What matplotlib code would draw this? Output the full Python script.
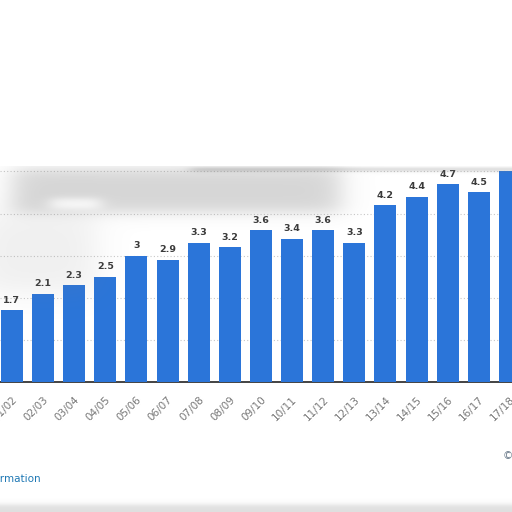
import matplotlib
matplotlib.use("Agg")
import matplotlib.pyplot as plt
import numpy as np

seasons = ["01/02", "02/03", "03/04", "04/05", "05/06", "06/07", "07/08", "08/09",
           "09/10", "10/11", "11/12", "12/13", "13/14", "14/15", "15/16", "16/17", "17/18"]
values = [1.7, 2.1, 2.3, 2.5, 3, 2.9, 3.3, 3.2, 3.6, 3.4, 3.6, 3.3, 4.2, 4.4, 4.7, 4.5, 5.0]
shown_labels = ["1.7", "2.1", "2.3", "2.5", "3", "2.9", "3.3", "3.2", "3.6", "3.4",
                "3.6", "3.3", "4.2", "4.4", "4.7", "4.5", "5"]

BLUE = "#2b75d9"


def smooth_box(v, a, b, w):
    return 1 / (1 + np.exp(-(v - a) / w)) / (1 + np.exp((v - b) / w))


def main():
    fig = plt.figure(figsize=(5.12, 5.12), dpi=100)
    fig.patch.set_facecolor("white")

    # axes runs off both sides of the picture (cropped screenshot)
    ax = fig.add_axes([0, 130 / 512, 1, 219 / 512])
    x = np.arange(len(seasons))
    ax.bar(x, values, width=0.707, color=BLUE, zorder=3)
    ax.set_xlim(-0.382, 16.065)
    ax.set_ylim(0, 5.2)

    for xi, v, lab in zip(x, values, shown_labels):
        ax.annotate(lab, (xi, v), xytext=(0, 4), textcoords="offset points",
                    ha="center", va="bottom", fontsize=6.8, fontweight="bold",
                    color="#3a3a3a", zorder=4)

    ax.set_yticks([1, 2, 3, 4, 5])
    ax.yaxis.grid(True, linestyle=(0, (1, 2)), color="#c8c8c8", linewidth=0.8, zorder=0)
    ax.tick_params(axis="y", left=False, labelleft=False)
    ax.set_xticks(x)
    ax.set_xticklabels(seasons, rotation=45, ha="right", va="top",
                       rotation_mode="anchor", fontsize=7.5, color="#777777")
    ax.tick_params(axis="x", length=0, pad=9)
    for side in ["top", "left", "right"]:
        ax.spines[side].set_visible(False)
    ax.spines["bottom"].set_color("#222222")
    ax.spines["bottom"].set_linewidth(1.2)

    fig.text(41 / 512, 1 - 479 / 512, "Additional Information", ha="right", va="center",
             fontsize=7.5, color="#1f78b4")
    fig.text(503 / 512, 1 - 456 / 512, "\u00a9 Statista 2021", ha="left", va="center",
             fontsize=7.5, color="#6a7a8a")

    # blurred grey smudge over the top of the chart, blank above it
    yy, xx = np.mgrid[0:512, 0:512].astype(float)
    alpha = 0.32 * smooth_box(xx, 12, 340, 8) * smooth_box(yy, 168, 212, 4)
    alpha += 0.12 * smooth_box(xx, -20, 95, 10) * smooth_box(yy, 212, 292, 8)
    alpha -= 0.28 * smooth_box(xx, 50, 100, 5) * smooth_box(yy, 198, 208, 2)
    alpha += 0.28 * smooth_box(xx, 190, 540, 4) * smooth_box(yy, 167, 171, 0.8)
    alpha += 0.25 * smooth_box(yy, 504, 520, 1.5)
    alpha = np.clip(alpha, 0, 1)
    img = np.zeros((512, 512, 4))
    img[..., :3] = 0.5
    img[..., 3] = alpha
    top = yy < 166
    img[top, :3] = 1.0
    img[top, 3] = 1.0
    ov = fig.add_axes([0, 0, 1, 1], zorder=10)
    ov.imshow(img, extent=(0, 512, 512, 0), interpolation="bilinear")
    ov.set_xlim(0, 512)
    ov.set_ylim(512, 0)
    ov.axis("off")

    fig.savefig("out.png", dpi=100)


if __name__ == "__main__":
    main()
